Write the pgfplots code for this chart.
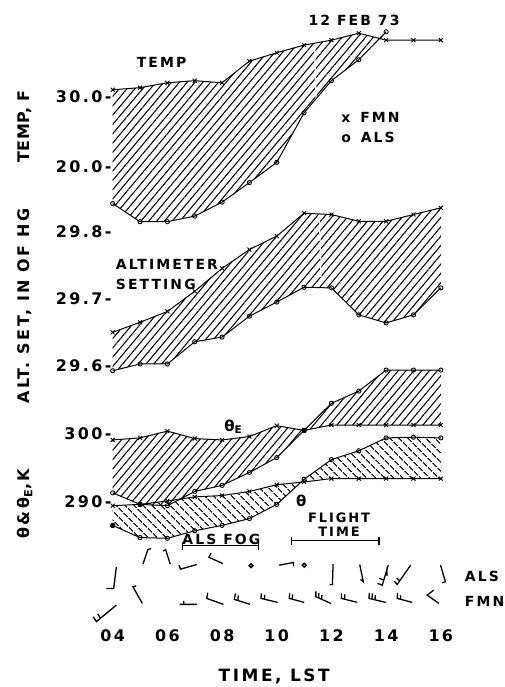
\documentclass[border=0pt]{standalone}
\usepackage{fontspec}
\setmainfont{DejaVu Sans}[LetterSpace=15]
\newfontfamily\tightf{DejaVu Sans}[LetterSpace=4]
\usepackage{pgfplots}
\usepackage{pgfplotstable}
\pgfplotsset{compat=1.18}
\usepgfplotslibrary{fillbetween}
\usetikzlibrary{patterns.meta}
\newcommand\F[1]{\fontsize{#1}{#1}\selectfont\bfseries}

\pgfplotstableread{
h v
4 31.0
5 31.3
6 32.0
7 32.3
8 32.0
9 35.1
10 36.3
11 37.4
12 38.1
13 39.1
14 38.1
15 38.1
16 38.1
}\tempF
\pgfplotstableread{
h v
4 14.7
5 12.1
6 12.1
7 12.9
8 14.9
9 17.7
10 20.6
11 27.7
12 32.3
13 35.3
14 39.3
}\tempA
\pgfplotstableread{
h v
4 29.650
5 29.665
6 29.681
7 29.711
8 29.745
9 29.773
10 29.793
11 29.827
12 29.825
13 29.815
14 29.815
15 29.825
16 29.835
}\altF
\pgfplotstableread{
h v
4 29.593
5 29.603
6 29.603
7 29.636
8 29.643
9 29.674
10 29.695
11 29.717
12 29.716
13 29.676
14 29.664
15 29.676
16 29.716
}\altA
\pgfplotstableread{
h v
4 299.1
5 299.4
6 300.4
7 299.3
8 299.1
9 299.6
10 301.2
11 300.5
12 301.3
13 301.3
14 301.3
15 301.3
16 301.3
}\thEF
\pgfplotstableread{
h v
4 291.3
5 289.6
6 289.4
7 291.5
8 292.4
9 294.3
10 296.5
11 300.5
12 304.5
13 306.3
14 309.4
15 309.4
16 309.4
}\thEA
\pgfplotstableread{
h v
4 289.4
5 289.6
6 290.1
7 290.7
8 290.9
9 291.5
10 292.5
11 292.9
12 293.4
13 293.4
14 293.4
15 293.4
16 293.4
}\thF
\pgfplotstableread{
h v
4 286.5
5 284.7
6 284.6
7 285.7
8 286.5
9 287.5
10 289.6
11 293.3
12 296.2
13 297.5
14 299.4
15 299.5
16 299.4
}\thA

\pgfplotsset{
  dax/.style={scale only axis, width=329pt, height=630pt, at={(113pt,57pt)}, anchor=south west,
    xmin=4, xmax=16, clip=false, axis line style={draw=none}, tick style={draw=none},
    major tick length=0pt, xtick=\empty, ytick=\empty, tick pos=left,
    yticklabel style={font=\F{16}, anchor=east, inner sep=1pt},
    xticklabel style={font=\F{16}, anchor=north, inner sep=1pt}},
  tempax/.style={dax, ymin=-46.143, ymax=43.857},
  altax/.style={dax, ymin=29.21037, ymax=30.14370},
  thax/.style={dax, ymin=271.324, ymax=363.971},
  pax/.style={scale only axis, width=503pt, height=687pt, at={(0pt,0pt)}, anchor=south west,
    xmin=0, xmax=503, ymin=0, ymax=687, y dir=reverse, hide axis, clip=false},
  fmn/.style={black, line width=1pt, mark=x, mark size=2.8pt, mark options={line width=0.9pt}},
  als/.style={black, line width=1pt, mark=o, mark size=2.1pt, mark options={line width=0.9pt}},
  hatchA/.style={draw=none, pattern color=black, pattern={Lines[angle=50,distance=6pt,line width=1.05pt]}},
  hatchB/.style={draw=none, pattern color=black, pattern={Lines[angle=-45,distance=6.4pt,line width=1.1pt]}},
}

\begin{document}
\begin{tikzpicture}
\path (0,0) rectangle (503pt,687pt);

% temperature hatch
\begin{axis}[tempax]
\addplot[draw=none, name path=tf] table[x=h,y=v] {\tempF};
\addplot[draw=none, name path=ta] table[x=h,y=v] {\tempA};
\addplot[hatchA] fill between[of=tf and ta, soft clip={domain=4:14}];
\end{axis}
% altimeter hatch
\begin{axis}[altax]
\addplot[draw=none, name path=af] table[x=h,y=v] {\altF};
\addplot[draw=none, name path=aa] table[x=h,y=v] {\altA};
\addplot[hatchA] fill between[of=af and aa];
\end{axis}
% white gap through the hatching
\begin{axis}[pax]
\addplot[white, line width=1.3pt, dash pattern=on 14pt off 4pt] table {
x y
315.5 48
322 285
};
\end{axis}

% temperature lines
\begin{axis}[tempax, ytick={20,30}, yticklabels={20.0-,30.0-}]
\addplot[fmn] table[x=h,y=v] {\tempF};
\addplot[als] table[x=h,y=v] {\tempA};
\end{axis}
% altimeter lines
\begin{axis}[altax, ytick={29.6,29.7,29.8}, yticklabels={29.6-,29.7-,29.8-}]
\addplot[fmn] table[x=h,y=v] {\altF};
\addplot[als] table[x=h,y=v] {\altA};
\end{axis}
% theta panel
\begin{axis}[thax, ytick={290,300}, yticklabels={290-,300-},
  xtick={4,6,8,10,12,14,16}, xticklabels={04,06,08,10,12,14,16}]
\addplot[draw=none, name path=ef] table[x=h,y=v] {\thEF};
\addplot[draw=none, name path=ea] table[x=h,y=v] {\thEA};
\addplot[draw=none, name path=pf] table[x=h,y=v] {\thF};
\addplot[draw=none, name path=pa] table[x=h,y=v] {\thA};
\addplot[hatchA] fill between[of=ef and ea];
\addplot[hatchB] fill between[of=pf and pa];
\addplot[fmn] table[x=h,y=v] {\thEF};
\addplot[als] table[x=h,y=v] {\thEA};
\addplot[fmn] table[x=h,y=v] {\thF};
\addplot[als] table[x=h,y=v] {\thA};
\addplot[only marks, mark=*, mark size=2.3pt] table {
x y
5 289.6
11 300.5
4 286.5
};
\end{axis}

% annotations, wind barbs
\begin{axis}[pax]
\addplot[black, line width=1.1pt, unbounded coords=jump] table {
x y
292 542
380 542
nan nan
292 538
292 546
nan nan
380 538
380 546
nan nan
183 547
259 547
nan nan
183 543
183 551
nan nan
259 543
259 551
};
\addplot[black, line width=1.3pt, unbounded coords=jump] table {
x y
106.7 590
114 590
116.7 568.3
nan nan
143.3 565.7
148.3 551
151.5 550
nan nan
170.7 565.7
166 551
163.5 552.5
nan nan
197.3 566
181 570.7
179.5 566.5
nan nan
223.3 565
209.5 558.8
211.5 554.5
nan nan
280 566.7
294.3 564
294.3 567.8
nan nan
334 565.7
333.3 586
330.5 586.3
nan nan
360.7 566
364.3 583.3
361.5 581
nan nan
389.3 566.7
383.3 586.7
378.5 585
nan nan
384.8 581.7
380.3 579.8
nan nan
388 568.5
388 577.5
nan nan
411.7 566.7
398.3 586
395.3 582.8
nan nan
400.8 582.5
397.8 579.5
nan nan
441.7 566.7
446.7 583.3
443.3 584.3
nan nan
116.7 606.7
96.7 623.3
93.3 618.3
nan nan
100.8 619.9
98 615.5
nan nan
142.7 605
133.3 588.3
136.5 587.5
nan nan
180 606
197.3 606
nan nan
184.3 606
184.3 602.5
nan nan
224 606
207.3 600
208.3 594.3
nan nan
250.7 606
235 601
236 595
nan nan
238.5 602
239 597
nan nan
278.3 604
261.7 600
262 595
nan nan
265 600.8
265.5 596.5
nan nan
305 604
290 600
290.5 595
nan nan
293 600.8
293.5 596
nan nan
331.7 605
316.7 598.3
316.7 593
nan nan
319.5 599.5
319.8 594.5
nan nan
322.5 600.8
322.8 596.5
nan nan
358.3 604
342.3 600
342.5 595
nan nan
345.5 600.8
345.8 596
nan nan
386.7 604
370 600
370.3 594.5
nan nan
373 600.7
373.3 595
nan nan
376 601.4
376.3 596.5
nan nan
413.3 604
398.3 600
398.6 594.5
nan nan
401.5 600.8
401.8 597
nan nan
440 605
428.3 596.7
435 591.7
};
\addplot[only marks, mark=o, mark size=1.9pt, mark options={line width=1.4pt}] table {
x y
251.7 567.3
305 566.7
};
\node[font=\F{14}] at (axis cs:355,20) {12 FEB 73};
\node[font=\F{14}] at (axis cs:162,63) {TEMP};
\node[font=\F{14}, anchor=west, inner sep=0pt] at (axis cs:342,118) {x\hspace{10pt}FMN};
\node[font=\F{14}, anchor=west, inner sep=0pt] at (axis cs:342,138) {o\hspace{10pt}ALS};
\node[font=\F{14}, anchor=west, inner sep=0pt] at (axis cs:116,265) {ALTIMETER};
\node[font=\F{14}, anchor=west, inner sep=0pt] at (axis cs:116,285) {SETTING};
\node[font=\F{15}] at (axis cs:234,428) {θ\textsubscript{E}};
\node[font=\F{15}] at (axis cs:302,502) {θ};
\node[font=\F{13}] at (axis cs:340,519) {FLIGHT};
\node[font=\F{13}] at (axis cs:340,533) {TIME};
\node[font=\F{14}] at (axis cs:222,541) {ALS FOG};
\node[font=\F{14}, anchor=west, inner sep=0pt] at (axis cs:466,578) {ALS};
\node[font=\F{14}, anchor=west, inner sep=0pt] at (axis cs:466,603) {FMN};
\node[font=\F{17}] at (axis cs:275,678) {TIME, LST};
\node[rotate=90, font=\tightf\F{16}] at (axis cs:25,127) {TEMP, F};
\node[rotate=90, font=\F{16}] at (axis cs:25,307) {ALT. SET, IN OF HG};
\node[rotate=90, font=\F{16}] at (axis cs:25,505) {θ\&θ\textsubscript{E},K};
\end{axis}
\end{tikzpicture}
\end{document}
